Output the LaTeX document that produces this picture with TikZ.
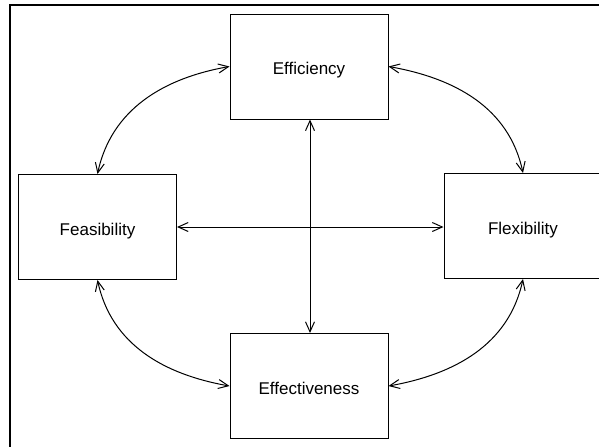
\documentclass[tikz,border=0pt]{standalone}
\usepackage{fontspec}
\setmainfont{Liberation Sans}
\usetikzlibrary{arrows.meta}
\tikzset{
	ebox/.style={draw, line width=0.5pt, minimum width=79pt, minimum height=52.5pt, text height=8pt, text depth=0pt, font=\fontsize{8.5}{10}\selectfont},
	link/.style={line width=0.5pt, {Straight Barb[length=5pt,width=4.5pt]}-{Straight Barb[length=5pt,width=4.5pt]}}
}

\begin{document}
\begin{tikzpicture}[x=0.5pt, y=0.5pt]
		%%%%% START %%%%%
		\useasboundingbox (0, 0) rectangle (599, 446);
		\clip (0, 0) rectangle (599, 446);
		
		\draw[line width=1pt] (10, 441) rectangle (620, -20);
		
		\node[ebox] (eff) at (309, 379.5) {Efficiency};
		\node[ebox] (fea) at (97.5, 219) {Feasibility};
		\node[ebox] (fle) at (523, 220) {Flexibility};
		\node[ebox] (efv) at (309, 60) {Effectiveness};
		
		\draw[link] (eff.south -| 310, 0) -- (efv.north -| 310, 0);
		\draw[link] (fea.east) -- (fea.east -| fle.west);
		
		\draw[link] (eff.west) to[out=190, in=78] (fea.north);
		\draw[link] (eff.east) to[out=-10, in=102] (fle.north);
		\draw[link] (fea.south) to[out=-78, in=170] (efv.west);
		\draw[link] (fle.south) to[out=-102, in=10] (efv.east);
		
		%%%%% END %%%%%
	\end{tikzpicture}
\end{document}
